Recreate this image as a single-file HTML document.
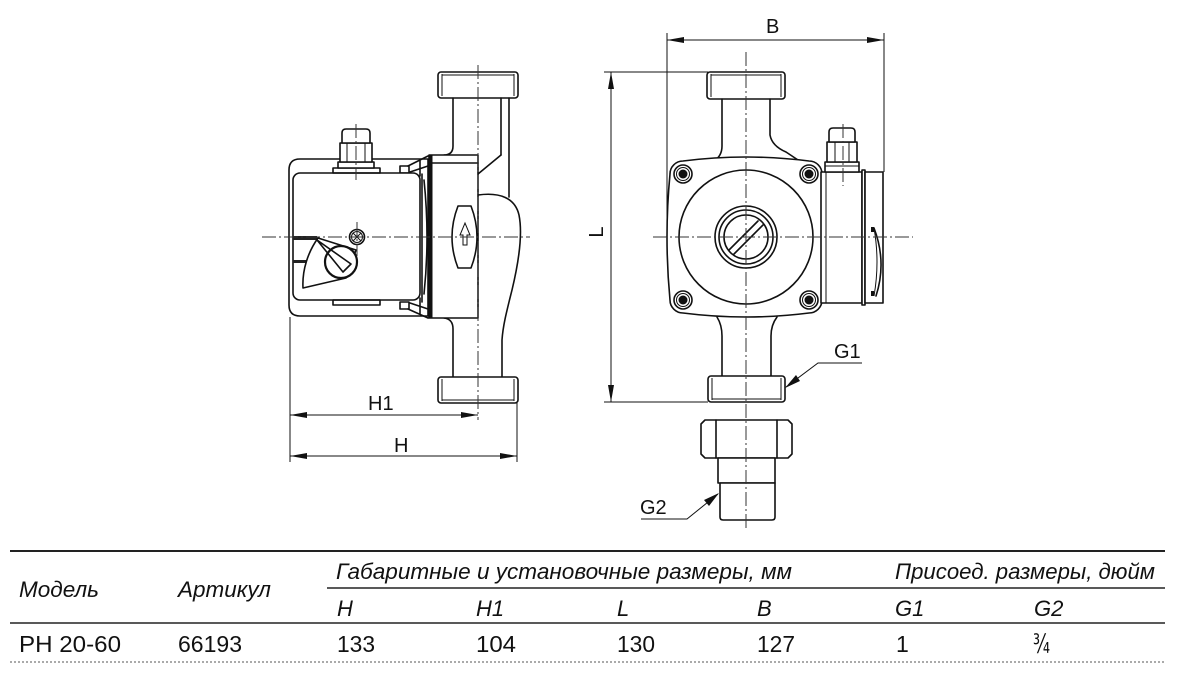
<!DOCTYPE html>
<html><head><meta charset="utf-8"><style>
html,body{margin:0;padding:0;background:#fff;}
svg{display:block;}
.o{fill:none;stroke:#111;stroke-width:1.6;stroke-linejoin:round;stroke-linecap:round;}
.w{fill:#fff;stroke:#111;stroke-width:1.6;stroke-linejoin:round;}
.t{fill:none;stroke:#111;stroke-width:1;}
.c{fill:none;stroke:#333;stroke-width:1;stroke-dasharray:14 3 2 3;}
.lbl{font-family:"Liberation Sans",sans-serif;font-size:20px;fill:#111;}
.th{font-family:"Liberation Sans","DejaVu Sans",sans-serif;font-style:italic;font-size:22px;fill:#111;}
.td{font-family:"Liberation Sans","DejaVu Sans",sans-serif;font-size:23px;fill:#111;}
</style></head><body>
<svg width="1177" height="674" viewBox="0 0 1177 674" xmlns="http://www.w3.org/2000/svg">
<rect width="1177" height="674" fill="#fff"/>

<!-- ================= LEFT PUMP ================= -->
<rect class="w" x="438" y="72" width="80" height="26" rx="3"/>
<line class="t" x1="442" y1="74" x2="442" y2="96"/><line class="t" x1="514" y1="74" x2="514" y2="96"/>
<line class="t" x1="442" y1="75" x2="514" y2="75"/>
<path class="o" d="M453,98 L453,146 Q453,155 444,155"/>
<line class="o" x1="501" y1="98" x2="501" y2="155"/>
<line class="o" x1="509" y1="98" x2="509" y2="197"/>
<line class="o" x1="478" y1="174" x2="501" y2="155"/>
<path class="o" d="M478,195 C500,192 515,198 519,215 C523,235 518,265 512,290 C507,310 503,325 502,340 L502,377"/>
<path class="o" d="M444,318 Q453,319 453,329 L453,377"/>
<rect class="w" x="429" y="155" width="49" height="163"/>
<line class="o" x1="429" y1="163" x2="478" y2="163"/>
<line x1="431" y1="155" x2="431" y2="318" stroke="#111" stroke-width="3"/>
<path class="o" d="M458,206 L471,206 Q483,237 471,268 L458,268 Q446,237 458,206Z"/>
<path class="t" d="M463,245 L463,235 L460,235 L465,223 L470,235 L467,235 L467,245 Z" stroke-width="1.3"/>
<path class="w" d="M300,159 L428,159 L428,316 L300,316 Q289,316 289,305 L289,170 Q289,159 300,159 Z"/>
<path class="o" d="M408,166 L428,156 M410,172 L428,166 M420,160 L420,176 M408,309 L428,318 M410,303 L428,309 M420,298 L420,314"/>
<rect class="o" x="400" y="166" width="9" height="7"/>
<rect class="o" x="400" y="302" width="9" height="7"/>
<line class="o" x1="422" y1="174" x2="422" y2="302"/>
<path class="o" d="M424,180 Q430,237 424,294"/>
<rect class="w" x="293" y="173" width="127" height="127" rx="7"/>
<rect class="o" x="333" y="168" width="47" height="5"/>
<rect class="o" x="333" y="300" width="47" height="5"/>
<rect class="w" x="338" y="162" width="36" height="6"/>
<rect class="w" x="340" y="143" width="32" height="19"/>
<line class="t" x1="347" y1="143" x2="347" y2="162"/><line class="t" x1="365" y1="143" x2="365" y2="162"/>
<path class="w" d="M342,143 L342,133 Q342,129 346,129 L366,129 Q370,129 370,133 L370,143 Z"/>
<rect x="293" y="236" width="24" height="4" fill="#222"/>
<rect x="293" y="260" width="13" height="3" fill="#222"/>
<path class="w" d="M318,238 C308,252 302,270 303,288 L346,278 L356,250 Z"/>
<circle cx="341" cy="262" r="16" fill="#fff" stroke="#111" stroke-width="2.2"/>
<path class="o" d="M317,240 L351,264 L343,272 Z"/>
<circle cx="357" cy="237" r="7.5" class="o"/>
<circle cx="357" cy="237" r="5.5" class="t"/>
<path class="t" d="M353,233 L361,241 M361,233 L353,241"/>
<rect class="w" x="438" y="377" width="80" height="26" rx="3"/>
<line class="t" x1="442" y1="379" x2="442" y2="401"/><line class="t" x1="514" y1="379" x2="514" y2="401"/>
<line class="t" x1="442" y1="400" x2="514" y2="400"/>

<!-- ================= RIGHT PUMP ================= -->
<rect class="w" x="707" y="72" width="78" height="27" rx="3"/>
<line class="t" x1="711" y1="74" x2="711" y2="97"/><line class="t" x1="781" y1="74" x2="781" y2="97"/>
<line class="t" x1="711" y1="75" x2="781" y2="75"/>
<path class="o" d="M722,99 L722,146 Q722,156 714,161"/>
<path class="o" d="M770,99 L770,135 Q772,146 786,152 L801,162"/>
<path class="w" d="M683,161 Q746,153 809,161 A13,13 0 0 1 822,174 L822,300 A13,13 0 0 1 809,313 Q746,321 683,313 A13,13 0 0 1 670,300 Q664,237 670,174 A13,13 0 0 1 683,161 Z"/>
<circle cx="746" cy="237" r="67" class="o"/>
<circle cx="746" cy="237" r="31" class="o"/>
<circle cx="746" cy="237" r="27" class="o"/>
<circle cx="746" cy="237" r="22" class="o"/>
<path class="o" d="M729,250 L758,221 M734,254 L763,225"/>
<g>
<circle cx="683" cy="174" r="9" class="o"/><circle cx="683" cy="174" r="6.5" class="t"/><circle cx="683" cy="174" r="4.5" fill="#111"/>
<circle cx="809" cy="174" r="9" class="o"/><circle cx="809" cy="174" r="6.5" class="t"/><circle cx="809" cy="174" r="4.5" fill="#111"/>
<circle cx="683" cy="300" r="9" class="o"/><circle cx="683" cy="300" r="6.5" class="t"/><circle cx="683" cy="300" r="4.5" fill="#111"/>
<circle cx="809" cy="300" r="9" class="o"/><circle cx="809" cy="300" r="6.5" class="t"/><circle cx="809" cy="300" r="4.5" fill="#111"/>
</g>
<rect class="w" x="821" y="172" width="41" height="131"/>
<line class="t" x1="826" y1="172" x2="826" y2="303"/>
<rect class="w" x="862" y="170" width="3" height="135"/>
<rect class="w" x="865" y="172" width="18" height="131"/>
<path class="o" d="M874,228 Q887,262 876,296" stroke-width="1.3"/>
<path class="t" d="M874,228 Q880,262 874,296"/>
<rect x="871" y="227" width="3" height="5" fill="#111"/>
<rect x="871" y="291" width="3" height="5" fill="#111"/>
<rect class="w" x="825" y="162" width="34" height="10"/>
<line class="t" x1="825" y1="166" x2="859" y2="166"/>
<rect class="w" x="827" y="142" width="30" height="20"/>
<line class="t" x1="835" y1="142" x2="835" y2="162"/><line class="t" x1="849" y1="142" x2="849" y2="162"/>
<path class="w" d="M829,142 L829,132 Q829,128 833,128 L851,128 Q855,128 855,132 L855,142 Z"/>
<path class="o" d="M717,317 Q722,325 722,336 L722,376"/>
<path class="o" d="M777,317 Q771,325 771,336 L771,376"/>
<rect class="w" x="708" y="376" width="77" height="26" rx="3"/>
<line class="t" x1="712" y1="378" x2="712" y2="400"/><line class="t" x1="781" y1="378" x2="781" y2="400"/>
<line class="t" x1="712" y1="399" x2="781" y2="399"/>
<path class="w" d="M701,424 L705,420 L788,420 L792,424 L792,454 L788,458 L705,458 L701,454 Z"/>
<line class="o" x1="716" y1="420" x2="716" y2="458"/><line class="o" x1="777" y1="420" x2="777" y2="458"/>
<rect class="w" x="718" y="458" width="57" height="25"/>
<path class="w" d="M720,483 L775,483 L775,517 Q775,520 772,520 L723,520 Q720,520 720,517 Z"/>

<!-- ================= CENTER LINES ================= -->
<line class="c" x1="262" y1="237" x2="530" y2="237"/>
<line class="c" x1="478" y1="65" x2="478" y2="420"/>
<line class="c" x1="356" y1="124" x2="356" y2="180"/>
<line class="c" x1="357" y1="222" x2="357" y2="256"/>
<line class="c" x1="653" y1="237" x2="913" y2="237"/>
<line class="c" x1="746" y1="52" x2="746" y2="530"/>
<line class="c" x1="843" y1="124" x2="843" y2="186"/>

<!-- ================= DIMENSIONS ================= -->
<line class="t" x1="290" y1="317" x2="290" y2="462"/>
<line class="t" x1="517" y1="403" x2="517" y2="462"/>
<line class="t" x1="290" y1="415" x2="478" y2="415"/>
<path d="M290,415 L307,412 L307,418 Z M478,415 L461,412 L461,418 Z" fill="#111"/>
<line class="t" x1="290" y1="456" x2="517" y2="456"/>
<path d="M290,456 L307,453 L307,459 Z M517,456 L500,453 L500,459 Z" fill="#111"/>
<text class="lbl" x="368" y="410">H1</text>
<text class="lbl" x="394" y="452">H</text>
<line class="t" x1="604" y1="72" x2="708" y2="72"/>
<line class="t" x1="604" y1="402" x2="708" y2="402"/>
<line class="t" x1="611" y1="72" x2="611" y2="402"/>
<path d="M611,72 L608,89 L614,89 Z M611,402 L608,385 L614,385 Z" fill="#111"/>
<text class="lbl" x="603" y="232" text-anchor="middle" transform="rotate(-90 603 232)">L</text>
<line class="t" x1="667" y1="33" x2="667" y2="237"/>
<line class="t" x1="884" y1="33" x2="884" y2="172"/>
<line class="t" x1="667" y1="40" x2="884" y2="40"/>
<path d="M667,40 L684,37 L684,43 Z M884,40 L867,37 L867,43 Z" fill="#111"/>
<text class="lbl" x="766" y="33">B</text>
<polyline class="t" points="786,387 818,363 862,363"/>
<path d="M785,388 L796,375 L800,381 Z" fill="#111"/>
<text class="lbl" x="834" y="358">G1</text>
<polyline class="t" points="641,519 687,519 718,494"/>
<path d="M719,493 L704,500 L709,506 Z" fill="#111"/>
<text class="lbl" x="640" y="514">G2</text>

<!-- ================= TABLE ================= -->
<line x1="10" y1="551" x2="1165" y2="551" stroke="#222" stroke-width="2"/>
<line x1="327" y1="588" x2="1165" y2="588" stroke="#222" stroke-width="1.6"/>
<line x1="10" y1="623" x2="1165" y2="623" stroke="#222" stroke-width="1.6"/>
<line x1="10" y1="662" x2="1165" y2="662" stroke="#777" stroke-width="1.2" stroke-dasharray="2 2"/>

<text class="th" x="19" y="597" textLength="80" lengthAdjust="spacingAndGlyphs">Модель</text>
<text class="th" x="178" y="597" textLength="93" lengthAdjust="spacingAndGlyphs">Артикул</text>
<text class="th" x="336" y="579" textLength="456" lengthAdjust="spacingAndGlyphs">Габаритные и установочные размеры, мм</text>
<text class="th" x="895" y="579" textLength="260" lengthAdjust="spacingAndGlyphs">Присоед. размеры, дюйм</text>
<text class="th" x="337" y="616">H</text>
<text class="th" x="476" y="616">H1</text>
<text class="th" x="617" y="616">L</text>
<text class="th" x="757" y="616">B</text>
<text class="th" x="895" y="616">G1</text>
<text class="th" x="1034" y="616">G2</text>

<text class="td" x="19" y="652" textLength="102" lengthAdjust="spacingAndGlyphs">PH 20-60</text>
<text class="td" x="178" y="652" textLength="64" lengthAdjust="spacingAndGlyphs">66193</text>
<text class="td" x="337" y="652" textLength="38" lengthAdjust="spacingAndGlyphs">133</text>
<text class="td" x="476" y="652" textLength="40" lengthAdjust="spacingAndGlyphs">104</text>
<text class="td" x="617" y="652" textLength="38" lengthAdjust="spacingAndGlyphs">130</text>
<text class="td" x="757" y="652" textLength="38" lengthAdjust="spacingAndGlyphs">127</text>
<text class="td" x="896" y="652">1</text>
<text x="1033" y="653" style="font-size:27px;font-family:'DejaVu Sans',sans-serif;fill:#111" textLength="17" lengthAdjust="spacingAndGlyphs">¾</text>
</svg>
</body></html>
